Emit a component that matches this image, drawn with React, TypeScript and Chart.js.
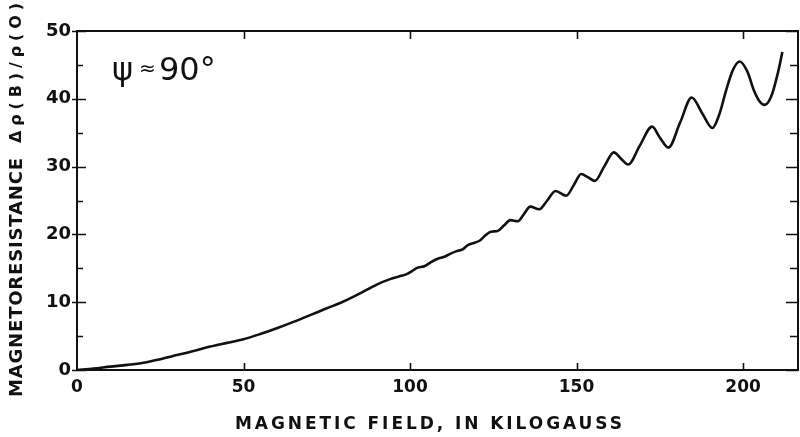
import React, { useEffect, useRef } from "react";
import { Chart, registerables } from "chart.js";

Chart.register(...registerables);

// Magnetic field, kilogauss
const fieldKG = [
  0, 5, 10, 15, 20, 25, 30, 35, 40, 45, 50, 55, 60, 65, 70, 75, 80, 85, 90, 94,
  96.7, 98.8, 100.6, 102.3, 104.3, 106.3, 108.3, 110.3, 111.9, 113.8, 115.8,
  117.3, 118.9, 121, 122.5, 124.3, 126.3, 128.2, 130.1, 132.4, 134.2, 136.1,
  138.8, 141.2, 143.7, 146.9, 149.2, 151.4, 153.5, 155.5, 158.3, 161.2, 163.3,
  165.5, 169, 172.7, 175, 177.6, 181.1, 184.6, 187.8, 190.8, 192.8, 195,
  197, 199, 201.3, 203.3, 205, 206.5, 208.5, 210.5, 211.8,
];

// Magnetoresistance Δρ(B)/ρ(0)
const magnetoresistance = [
  0, 0.2, 0.5, 0.75, 1.08, 1.6, 2.2, 2.8, 3.45, 4.0, 4.54, 5.3, 6.16, 7.1, 8.1,
  9.1, 10.1, 11.3, 12.6, 13.4,
  13.8, 14.1, 14.6, 15.1, 15.3, 15.9, 16.4, 16.7, 17.1, 17.5, 17.8,
  18.4, 18.7, 19.1, 19.8, 20.4, 20.5, 21.3, 22.1, 21.95, 23.0, 24.1,
  23.7, 25.0, 26.4, 25.7, 27.3, 28.9, 28.4, 27.9, 30.0, 32.1, 31.2,
  30.3, 33.1, 35.9, 34.3, 32.8, 36.5, 40.2, 37.8, 35.7, 37.6, 41.4,
  44.3, 45.5, 44.0, 41.2, 39.6, 39.1, 40.4, 43.9, 46.9,
];

const xTickValues = [0, 50, 100, 150, 200];
const yTickValues = [0, 10, 20, 30, 40, 50];
const yMinorTickValues = [5, 15, 25, 35, 45];

const xAxisTitle = "MAGNETIC FIELD, IN KILOGAUSS";
const yAxisTitleMain = "MAGNETORESISTANCE";
const yAxisTitleRatio = "Δρ(B)/ρ(O)";
const annotationSymbol = "ψ";
const annotationApprox = "≈";
const annotationValue = "90°";

const FONT = "'DejaVu Sans', sans-serif";

function drawSpaced(ctx: any, text: string, x: number, y: number, target: number) {
  ctx.letterSpacing = "0px";
  const w = ctx.measureText(text).width;
  const n = text.length;
  const sp = n > 1 ? (target - w) / (n - 1) : 0;
  ctx.letterSpacing = sp + "px";
  ctx.fillText(text, x, y);
  ctx.letterSpacing = "0px";
}

const framePlugin = {
  id: "frameAndDecor",
  beforeDraw(chart: any) {
    const ctx = chart.ctx;
    ctx.save();
    ctx.fillStyle = "#ffffff";
    ctx.fillRect(0, 0, chart.width, chart.height);
    ctx.restore();
  },
  afterDraw(chart: any) {
    const ctx = chart.ctx;
    const { left, right, top, bottom } = chart.chartArea;
    const xs = chart.scales.x;
    const ys = chart.scales.y;
    ctx.save();
    ctx.strokeStyle = "#111";
    ctx.lineWidth = 2;
    ctx.beginPath();
    ctx.rect(left, top, right - left, bottom - top);
    ctx.stroke();

    ctx.lineWidth = 1.6;
    ctx.beginPath();
    yTickValues.forEach((v) => {
      const py = Math.round(ys.getPixelForValue(v)) + 0.5;
      ctx.moveTo(left - 5, py);
      ctx.lineTo(left + 9, py);
      ctx.moveTo(right - 12, py);
      ctx.lineTo(right, py);
    });
    yMinorTickValues.forEach((v) => {
      const py = Math.round(ys.getPixelForValue(v)) + 0.5;
      ctx.moveTo(left, py);
      ctx.lineTo(left + 6, py);
      ctx.moveTo(right - 8, py);
      ctx.lineTo(right, py);
    });
    xTickValues.forEach((v) => {
      if (v === 0) return;
      const px = Math.round(xs.getPixelForValue(v)) + 0.5;
      ctx.moveTo(px, top);
      ctx.lineTo(px, top + 8);
      ctx.moveTo(px, bottom);
      ctx.lineTo(px, bottom - 7);
    });
    ctx.stroke();

    // x-axis title
    ctx.fillStyle = "#111";
    ctx.textBaseline = "alphabetic";
    ctx.textAlign = "left";
    ctx.font = `bold 17px ${FONT}`;
    drawSpaced(ctx, xAxisTitle, 235, 429, 387);

    // y-axis title (rotated)
    ctx.save();
    ctx.translate(17, 397);
    ctx.rotate(-Math.PI / 2);
    ctx.textBaseline = "middle";
    ctx.font = `bold 18px ${FONT}`;
    drawSpaced(ctx, yAxisTitleMain, 0, 0, 239);
    ctx.font = `bold 16px ${FONT}`;
    drawSpaced(ctx, yAxisTitleRatio, 254, 0, 140);
    ctx.restore();

    // annotation
    ctx.textBaseline = "alphabetic";
    ctx.font = `32px ${FONT}`;
    ctx.fillText(annotationSymbol, left + 35, top + 49);
    ctx.font = `20px ${FONT}`;
    ctx.fillText(annotationApprox, left + 62, top + 44);
    ctx.font = `32px ${FONT}`;
    ctx.fillText(annotationValue, left + 82, top + 49);
    ctx.restore();
  },
};

export default function App() {
  const ref = useRef<HTMLCanvasElement | null>(null);
  useEffect(() => {
    if (!ref.current) return;
    const data = fieldKG.map((x, i) => ({ x, y: magnetoresistance[i] }));
    const chart = new Chart(ref.current, {
      type: "line",
      data: {
        datasets: [
          {
            data,
            borderColor: "#111",
            borderWidth: 2.6,
            pointRadius: 0,
            fill: false,
            cubicInterpolationMode: "monotone",
          },
        ],
      },
      options: {
        animation: false,
        responsive: false,
        devicePixelRatio: 1,
        layout: { padding: { top: 31, right: 2, left: 0, bottom: 0 } },
        plugins: { legend: { display: false }, tooltip: { enabled: false } },
        scales: {
          x: {
            type: "linear",
            min: 0,
            max: 216.5,
            grid: { display: false, drawTicks: false },
            border: { display: false },
            afterBuildTicks: (s: any) => {
              s.ticks = xTickValues.map((v) => ({ value: v }));
            },
            afterFit: (s: any) => {
              s.height = 67;
            },
            ticks: {
              padding: 7,
              color: "#111",
              font: { family: FONT, size: 17, weight: "bold" },
              maxRotation: 0,
            },
          },
          y: {
            type: "linear",
            min: 0,
            max: 50,
            grid: { display: false, drawTicks: false },
            border: { display: false },
            afterBuildTicks: (s: any) => {
              s.ticks = yTickValues.map((v) => ({ value: v }));
            },
            afterFit: (s: any) => {
              s.width = 77;
            },
            ticks: {
              padding: 6,
              color: "#111",
              font: { family: FONT, size: 18, weight: "bold" },
            },
          },
        },
      },
      plugins: [framePlugin],
    } as any);
    return () => chart.destroy();
  }, []);
  return (
    <div style={{ position: "fixed", left: 0, top: 0, width: 800, height: 437, background: "#fff" }}>
      <canvas ref={ref} width={800} height={437} style={{ display: "block" }} />
    </div>
  );
}
